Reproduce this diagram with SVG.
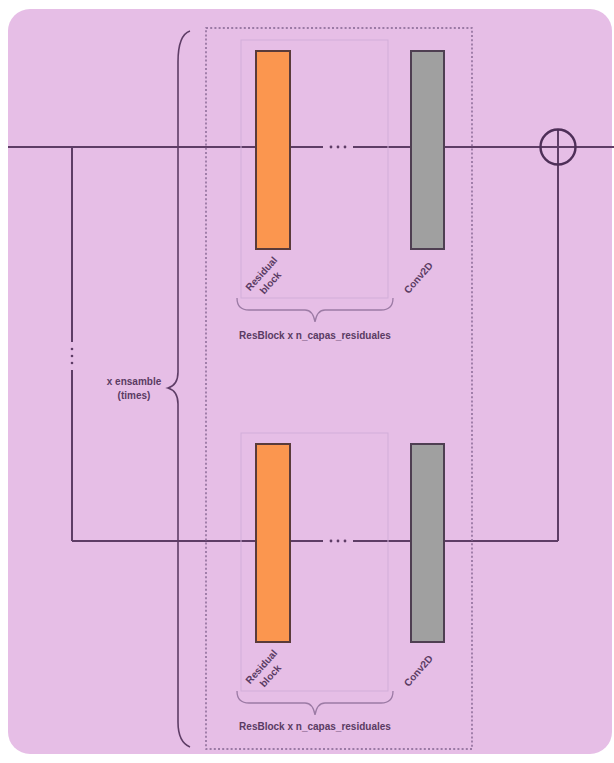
<svg xmlns="http://www.w3.org/2000/svg" width="614" height="763" viewBox="0 0 614 763">
  <style>
    .wire { stroke: #5e3d66; stroke-width: 2; fill: none; }
    .brace { stroke: #5e3d66; stroke-width: 1.6; fill: none; }
    .sbrace { stroke: #9c7ba5; stroke-width: 1.3; fill: none; }
    .frame { stroke: #836490; stroke-width: 1.4; stroke-dasharray: 2 2.2; fill: none; }
    .inner { stroke: #d2aed9; stroke-width: 1; fill: none; }
    .res { fill: #fb964f; stroke: #5a3b3a; stroke-width: 2; }
    .conv { fill: #a0a0a0; stroke: #4f3f52; stroke-width: 2; }
    .dot { fill: #5e3d66; }
    .lbl { font-family: "Liberation Sans", Arial, sans-serif; font-size: 10px; font-weight: bold; fill: #5a3b63; }
    .rot { font-family: "Liberation Sans", Arial, sans-serif; font-size: 10px; font-weight: bold; fill: #5a3b63; text-anchor: middle; }
  </style>

  <!-- panel background -->
  <rect id="panel" x="8" y="9" width="604" height="745" rx="22" fill="#e6bee6"/>

  <!-- wires between blocks -->
  <g id="connectors">
    <!-- main path, top -->
    <line class="wire" x1="8" y1="147" x2="256" y2="147"/>
    <line class="wire" x1="290" y1="147" x2="323" y2="147"/>
    <line class="wire" x1="353" y1="147" x2="411" y2="147"/>
    <line class="wire" x1="444" y1="147" x2="614" y2="147"/>
    <circle class="dot" cx="331" cy="147" r="1.4"/>
    <circle class="dot" cx="338" cy="147" r="1.4"/>
    <circle class="dot" cx="345" cy="147" r="1.4"/>
    <!-- skip branch on the left -->
    <line class="wire" x1="72" y1="147" x2="72" y2="342"/>
    <circle class="dot" cx="72" cy="349" r="1.3"/>
    <circle class="dot" cx="72" cy="356" r="1.3"/>
    <circle class="dot" cx="72" cy="363" r="1.3"/>
    <line class="wire" x1="72" y1="370" x2="72" y2="541"/>
    <!-- lower path -->
    <line class="wire" x1="72" y1="541" x2="256" y2="541"/>
    <line class="wire" x1="290" y1="541" x2="323" y2="541"/>
    <line class="wire" x1="353" y1="541" x2="411" y2="541"/>
    <line class="wire" x1="444" y1="541" x2="558" y2="541"/>
    <circle class="dot" cx="331" cy="541" r="1.4"/>
    <circle class="dot" cx="338" cy="541" r="1.4"/>
    <circle class="dot" cx="345" cy="541" r="1.4"/>
    <!-- return to the adder -->
    <line class="wire" x1="558" y1="541" x2="558" y2="129"/>
  </g>

  <!-- adder -->
  <g id="sum">
    <circle cx="558" cy="147" r="17.5" fill="none" stroke="#4e2f58" stroke-width="2.4"/>
  </g>

  <!-- ensemble brace and label -->
  <g id="ensemble">
    <path class="brace" d="M190,31 Q178,35 178,62 L178,372 Q178,385 168,388 Q178,391 178,404 L178,722 Q178,742 190,747"/>
    <text class="lbl" x="134" y="385" text-anchor="middle">x ensamble</text>
    <text class="lbl" x="134" y="399" text-anchor="middle">(times)</text>
  </g>

  <!-- dotted outer frame -->
  <g id="ensemble-frame">
    <rect class="frame" x="206" y="28" width="266" height="721"/>
  </g>

  <!-- first residual stack -->
  <g id="stack-1">
    <rect class="inner" x="241" y="40" width="147" height="258"/>
    <rect class="res" x="256" y="51" width="34" height="198"/>
    <rect class="conv" x="411" y="51" width="33" height="198"/>
    <text class="rot" transform="translate(264,276) rotate(-48)">Residual</text>
    <text class="rot" transform="translate(273,285) rotate(-48)">block</text>
    <text class="rot" transform="translate(421,280) rotate(-49)">Conv2D</text>
    <path class="sbrace" d="M237,298 Q237,310 249,310 L305,310 Q313,310 315,322 Q317,310 325,310 L381,310 Q393,310 393,298"/>
    <text class="lbl" x="315" y="339" text-anchor="middle">ResBlock x n_capas_residuales</text>
  </g>

  <!-- second residual stack -->
  <g id="stack-2">
    <rect class="inner" x="241" y="433" width="147" height="258"/>
    <rect class="res" x="256" y="444" width="34" height="198"/>
    <rect class="conv" x="411" y="444" width="33" height="198"/>
    <text class="rot" transform="translate(264,669) rotate(-48)">Residual</text>
    <text class="rot" transform="translate(273,678) rotate(-48)">block</text>
    <text class="rot" transform="translate(421,673) rotate(-49)">Conv2D</text>
    <path class="sbrace" d="M237,691 Q237,703 249,703 L305,703 Q313,703 315,715 Q317,703 325,703 L381,703 Q393,703 393,691"/>
    <text class="lbl" x="315" y="730" text-anchor="middle">ResBlock x n_capas_residuales</text>
  </g>
</svg>
